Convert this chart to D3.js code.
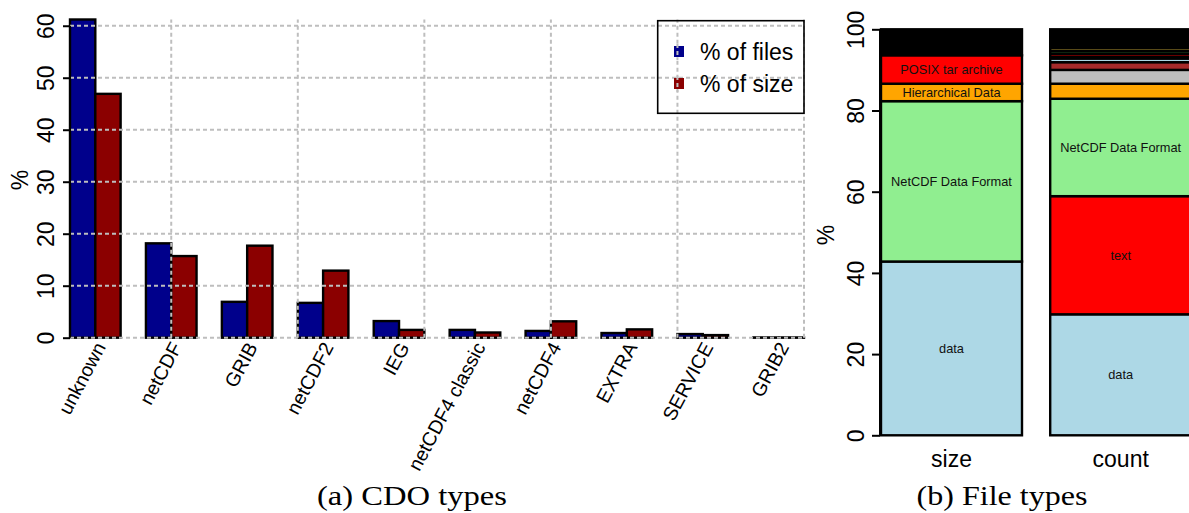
<!DOCTYPE html>
<html><head><meta charset="utf-8">
<script src="https://cdn.jsdelivr.net/npm/d3@7"></script>
<style>body{margin:0;background:#fff}svg{display:block}</style>
</head><body>
<svg id="c" width="1189" height="513"></svg>
<script>
// ---------- data: panel (a) CDO types ----------
const cdoTypes = ["unknown","netCDF","GRIB","netCDF2","IEG","netCDF4 classic","netCDF4","EXTRA","SERVICE","GRIB2"];
const pctFiles = [61.2, 18.15, 6.9, 6.7, 3.2, 1.5, 1.3, 0.9, 0.7, 0.05];
const pctSize  = [46.9, 15.7, 17.7, 12.9, 1.5, 1.0, 3.15, 1.6, 0.5, 0.05];
const yTicksA = [0, 10, 20, 30, 40, 50, 60];
const legendLabels = ["% of files", "% of size"];
const captionA = "(a) CDO types";

// ---------- data: panel (b) file types ----------
const fileBars = ["size", "count"];
const sizeTypes  = ["data","NetCDF Data Format","Hierarchical Data","POSIX tar archive","other"];
const sizeValues = [42.8, 39.5, 4.3, 7.0, 6.4];
const sizeLabels = ["data","NetCDF Data Format","Hierarchical Data","POSIX tar archive",""];
const countTypes  = ["data","text","NetCDF Data Format","Hierarchical Data","type 5","type 6","type 7","type 8","type 9","type 10","type 11","other"];
const countValues = [29.8, 29.1, 24.0, 3.7, 3.4, 1.9, 0.9, 0.45, 0.7, 0.7, 0.8, 4.55];
const countLabels = ["data","text","NetCDF Data Format","","","","","","","","",""];
const yTicksB = [0, 20, 40, 60, 80, 100];
const captionB = "(b) File types";

// ---------- styles ----------
const FONT = "'Liberation Sans', Arial, Helvetica, sans-serif";
const SERIF = "'Liberation Serif', 'Times New Roman', serif";
const seriesColors = ["#00008B", "#8B0000"];
const sizeColors  = ["#ADD8E6","#90EE90","#FFA500","#FF0000","#000000"];
const countColors = ["#ADD8E6","#FF0000","#90EE90","#FFA500","#BEBEBE","#A52A2A","#ADD8E6","#000000","#FF0000","#2E6B2E","#6B5A1E","#000000"];

const svg = d3.select("#c");

// ================= Panel (a) =================
const xA = d3.scaleLinear().domain([1, 30]).range([70, 804]);
const yA = d3.scaleLinear().domain([0, 61.2]).range([337.7, 19.5]);
const gA = svg.append("g");

const series = [pctFiles, pctSize];
series.forEach((vals, s) => {
  gA.append("g").selectAll("rect").data(vals).join("rect")
    .attr("x", (d, i) => xA(1 + 3 * i + s))
    .attr("width", (d, i) => xA(2 + 3 * i + s) - xA(1 + 3 * i + s))
    .attr("y", d => yA(d))
    .attr("height", d => yA(0) - yA(d))
    .attr("fill", seriesColors[s])
    .attr("stroke", "#000").attr("stroke-width", 2.4);
});

// grid (drawn over bars, as in R grid())
const gridA = gA.append("g").attr("stroke", "#BEBEBE").attr("stroke-width", 2).attr("stroke-dasharray", "4,3");
gridA.selectAll("line.h").data(yTicksA).join("line").attr("class", "h")
  .attr("x1", xA(1)).attr("x2", xA(30)).attr("y1", d => yA(d)).attr("y2", d => yA(d));
gridA.selectAll("line.v").data(xA.ticks(6)).join("line").attr("class", "v")
  .attr("x1", d => xA(d)).attr("x2", d => xA(d)).attr("y1", yA(0)).attr("y2", yA(61.2));

// y axis
const axA = gA.append("g").attr("transform", `translate(${xA(1)},0)`)
  .call(d3.axisLeft(yA).tickValues(yTicksA).tickSize(7).tickPadding(0));
axA.select(".domain").remove();
axA.selectAll(".tick line").attr("stroke", "#000").attr("stroke-width", 2);
axA.selectAll(".tick text").attr("transform", "rotate(-90)").attr("x", 0).attr("y", -16.5).attr("dy", 0)
  .attr("text-anchor", "middle").attr("font-family", FONT).attr("font-size", 23).attr("fill", "#000");
axA.append("line").attr("x1", 0).attr("x2", 0).attr("y1", yA(0)).attr("y2", yA(60)).attr("stroke", "#000").attr("stroke-width", 2);
gA.append("text").attr("transform", `translate(27.5,180) rotate(-90)`)
  .attr("text-anchor", "middle").attr("font-family", FONT).attr("font-size", 23).text("%");

// x labels
gA.append("g").selectAll("text").data(cdoTypes).join("text")
  .attr("transform", (d, i) => `translate(${xA(2 + 3 * i) + 11},347) rotate(-62)`)
  .attr("text-anchor", "end").attr("font-family", FONT).attr("font-size", 19.5).text(d => d);

// legend
const lg = gA.append("g");
lg.append("rect").attr("x", 657.7).attr("y", 20.7).attr("width", 804 - 657.7).attr("height", 113.3 - 20.7)
  .attr("fill", "none").attr("stroke", "#000").attr("stroke-width", 1.6);
legendLabels.forEach((t, i) => {
  lg.append("rect").attr("x", 674).attr("y", 46 + 32 * i).attr("width", 10).attr("height", 11).attr("fill", seriesColors[i]);
  lg.append("line").attr("x1", xA(25)).attr("x2", xA(25)).attr("y1", 44 + 32 * i).attr("y2", 60 + 32 * i)
    .attr("stroke", "#BEBEBE").attr("stroke-width", 2).attr("stroke-dasharray", "4,3");
  lg.append("text").attr("x", 700).attr("y", 60 + 32 * i).attr("font-family", FONT).attr("font-size", 23).text(t);
});

svg.append("text").attr("x", 412).attr("y", 505).attr("text-anchor", "middle")
  .attr("font-family", SERIF).attr("font-size", 27).attr("textLength", 190).attr("lengthAdjust", "spacingAndGlyphs").text(captionA);

// ================= Panel (b) =================
const xB = d3.scaleLinear().domain([0.2, 1.2]).range([881, 1022]);
const yB = d3.scaleLinear().domain([0, 100]).range([435.3, 29.3]);
const gB = svg.append("g");

const stacks = [
  {vals: sizeValues, labels: sizeLabels, colors: sizeColors},
  {vals: countValues, labels: countLabels, colors: countColors}
];
stacks.forEach((st, b) => {
  const left = 0.2 + 1.2 * b, right = 1.2 + 1.2 * b;
  const tops = d3.cumsum(st.vals);
  const segs = st.vals.map((v, i) => ({lo: tops[i] - v, hi: tops[i], c: st.colors[i], l: st.labels[i]}));
  const g = gB.append("g");
  g.selectAll("rect").data(segs).join("rect")
    .attr("x", xB(left)).attr("width", xB(right) - xB(left))
    .attr("y", d => yB(d.hi)).attr("height", d => yB(d.lo) - yB(d.hi))
    .attr("fill", d => d.c).attr("stroke", "#000").attr("stroke-width", 2.4);
  g.selectAll("text").data(segs.filter(d => d.l)).join("text")
    .attr("x", (xB(left) + xB(right)) / 2).attr("y", d => yB((d.lo + d.hi) / 2)).attr("dy", "0.36em")
    .attr("text-anchor", "middle").attr("font-family", FONT).attr("font-size", 12.8).attr("fill", "#111").text(d => d.l);
  gB.append("text").attr("x", (xB(left) + xB(right)) / 2).attr("y", 466.7).attr("text-anchor", "middle")
    .attr("font-family", FONT).attr("font-size", 23).text(fileBars[b]);
});

const axB = gB.append("g").attr("transform", "translate(880,0)")
  .call(d3.axisLeft(yB).tickValues(yTicksB).tickSize(8).tickPadding(0));
axB.select(".domain").remove();
axB.selectAll(".tick line").attr("stroke", "#000").attr("stroke-width", 2);
axB.selectAll(".tick text").attr("transform", "rotate(-90)").attr("x", 0).attr("y", -16.5).attr("dy", 0)
  .attr("text-anchor", "middle").attr("font-family", FONT).attr("font-size", 23).attr("fill", "#000");
axB.append("line").attr("x1", 0).attr("x2", 0).attr("y1", yB(0)).attr("y2", yB(100)).attr("stroke", "#000").attr("stroke-width", 2);
gB.append("text").attr("transform", `translate(833.5,235) rotate(-90)`)
  .attr("text-anchor", "middle").attr("font-family", FONT).attr("font-size", 23).text("%");

svg.append("text").attr("x", 1002).attr("y", 505).attr("text-anchor", "middle")
  .attr("font-family", SERIF).attr("font-size", 27).attr("textLength", 171).attr("lengthAdjust", "spacingAndGlyphs").text(captionB);
</script>
</body></html>
